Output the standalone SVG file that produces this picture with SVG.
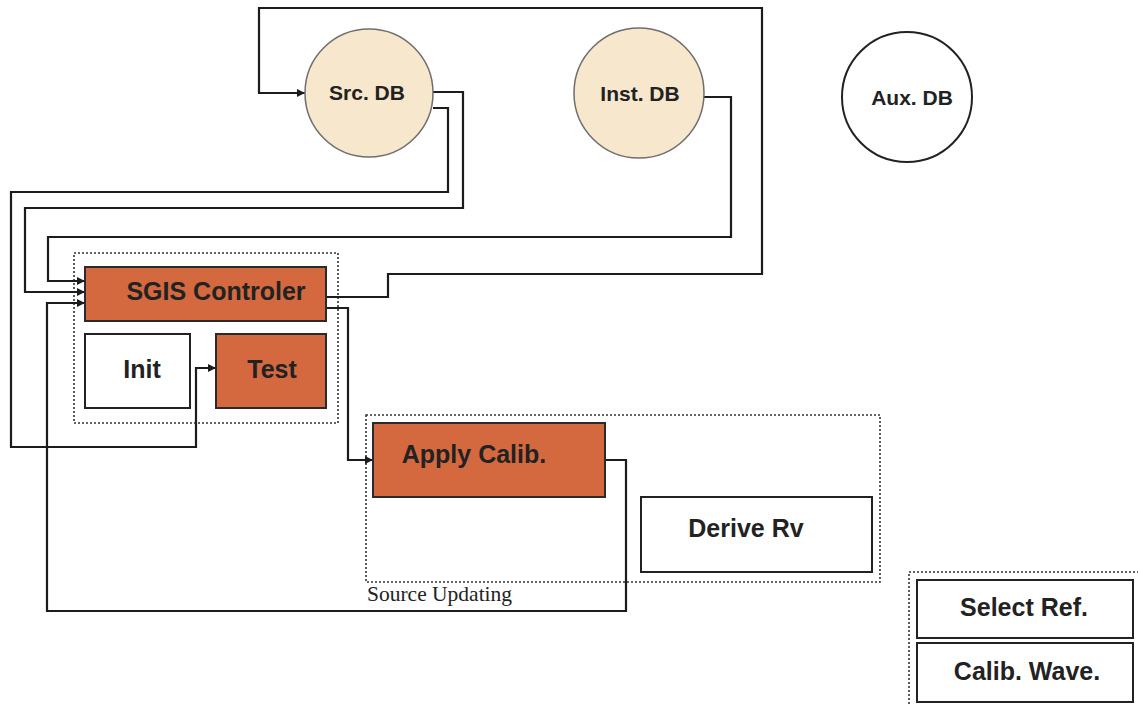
<svg xmlns="http://www.w3.org/2000/svg" width="1138" height="706" viewBox="0 0 1138 706">
<style>
.lbl{font-family:"Liberation Sans",Arial,sans-serif;font-weight:bold;fill:#222;text-anchor:middle}
.db{fill:#F7E7CC;stroke:#6e6e6e;stroke-width:1.5}
.box{fill:#fff;stroke:#222;stroke-width:2}
.obox{fill:#D4693F;stroke:#2a2a2a;stroke-width:2}
.grp{fill:none;stroke:#333;stroke-width:1.6;stroke-dasharray:2 2}
.wire{fill:none;stroke:#1c1c1c;stroke-width:2.2}
</style>
<defs>
<marker id="arr" viewBox="0 0 10 10" refX="10" refY="5" markerWidth="9" markerHeight="8" orient="auto" markerUnits="userSpaceOnUse">
<path d="M0,0 L10,5 L0,10 z" fill="#1c1c1c"/>
</marker>
</defs>
<rect width="1138" height="706" fill="#fff"/>

<g id="group-controller"><rect class="grp" x="74" y="253" width="264" height="170"/></g>
<g id="group-source-updating">
<rect class="grp" x="366" y="415" width="514" height="167"/>
<text x="367" y="601" font-family="'Liberation Serif','Times New Roman',serif" font-size="21.5" fill="#222">Source Updating</text>
</g>
<g id="group-ref"><rect class="grp" x="909" y="572" width="240" height="140"/></g>

<g id="connectors">
<path class="wire" marker-end="url(#arr)" d="M326,297 H388 V274 H762 V8 H259 V93 H305"/>
<path class="wire" marker-end="url(#arr)" d="M433,92 H463 V208 H25 V292 H85"/>
<path class="wire" marker-end="url(#arr)" d="M433,108 H448 V192 H11 V447 H196 V368 H216"/>
<path class="wire" marker-end="url(#arr)" d="M704,97 H731 V237 H48 V281 H85"/>
<path class="wire" marker-end="url(#arr)" d="M605,460 H626 V611 H47 V303 H85"/>
<path class="wire" marker-end="url(#arr)" d="M326,308 H348 V460 H373"/>
</g>

<g id="src-db"><circle class="db" cx="369" cy="93" r="64"/><text class="lbl" x="367" y="100" font-size="21">Src. DB</text></g>
<g id="inst-db"><circle class="db" cx="639" cy="93" r="65"/><text class="lbl" x="640" y="101" font-size="21">Inst. DB</text></g>
<g id="aux-db"><circle cx="907" cy="97" r="65" fill="#fff" stroke="#222" stroke-width="2"/><text class="lbl" x="912" y="105" font-size="21">Aux. DB</text></g>

<g id="sgis-controler"><rect class="obox" x="85" y="267" width="241" height="54"/><text class="lbl" x="216" y="300" font-size="25">SGIS Controler</text></g>
<g id="init"><rect class="box" x="85" y="334" width="105" height="74"/><text class="lbl" x="142" y="378" font-size="25">Init</text></g>
<g id="test"><rect class="obox" x="216" y="334" width="110" height="74"/><text class="lbl" x="272" y="378" font-size="25">Test</text></g>
<g id="apply-calib"><rect class="obox" x="373" y="423" width="232" height="74"/><text class="lbl" x="474" y="463" font-size="25">Apply Calib.</text></g>
<g id="derive-rv"><rect class="box" x="641" y="497" width="231" height="75"/><text class="lbl" x="746" y="537" font-size="25">Derive Rv</text></g>
<g id="select-ref"><rect class="box" x="917" y="580" width="216" height="58"/><text class="lbl" x="1024" y="616" font-size="25">Select Ref.</text></g>
<g id="calib-wave"><rect class="box" x="917" y="643" width="216" height="59"/><text class="lbl" x="1027" y="680" font-size="25">Calib. Wave.</text></g>
</svg>
